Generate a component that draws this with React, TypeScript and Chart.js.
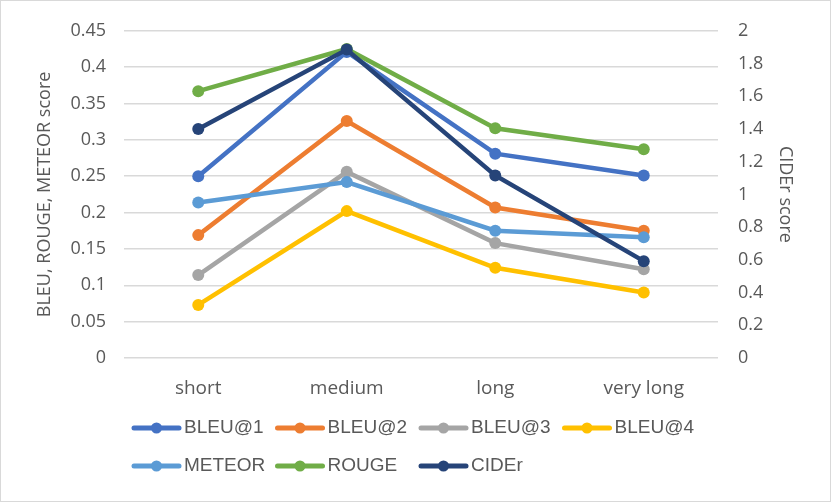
import { useRef, useEffect } from "react"
import { Chart, registerables } from "chart.js"

Chart.register(...registerables)

const categories = ["short", "medium", "long", "very long"]

const seriesNames = ["BLEU@1", "BLEU@2", "BLEU@3", "BLEU@4", "METEOR", "ROUGE", "CIDEr"]
const bleu1 = [0.25, 0.421, 0.281, 0.251]
const bleu2 = [0.169, 0.326, 0.207, 0.175]
const bleu3 = [0.114, 0.256, 0.158, 0.122]
const bleu4 = [0.073, 0.202, 0.124, 0.09]
const meteor = [0.214, 0.242, 0.175, 0.166]
const rouge = [0.367, 0.425, 0.316, 0.287]
const cider = [1.4, 1.885, 1.116, 0.592] // right axis

const colors = ["#4472C4", "#ED7D31", "#A5A5A5", "#FFC000", "#5B9BD5", "#70AD47", "#264478"]

const leftTitle = "BLEU, ROUGE, METEOR score"
const rightTitle = "CIDEr score"

const textColor = "#595959"
const gridColor = "#d9d9d9"
const fontFamily = "'Open Sans', sans-serif"

// trim trailing zeros like Excel does (0.4, 2, 1.8)
const fmt = (v: number | string) => String(Math.round(Number(v) * 100) / 100)

// Excel-style legend: fixed columns, line with a dot as the sample
const legendPlugin = {
    id: "excelLegend",
    afterDraw(chart: Chart) {
        const { ctx } = chart
        const startX = 132
        const colWidth = 143.5
        const rowY = [428, 466]
        const perRow = 4
        ctx.save()
        ctx.font = "19px 'Liberation Sans', Arial, sans-serif"
        ctx.textBaseline = "middle"
        ctx.textAlign = "left"
        chart.data.datasets.forEach((ds, i) => {
            const x = startX + (i % perRow) * colWidth
            const y = rowY[Math.floor(i / perRow)]
            const c = ds.borderColor as string
            ctx.strokeStyle = c
            ctx.lineWidth = 5
            ctx.lineCap = "round"
            ctx.beginPath()
            ctx.moveTo(x + 2, y)
            ctx.lineTo(x + 47, y)
            ctx.stroke()
            ctx.fillStyle = c
            ctx.beginPath()
            ctx.arc(x + 24.5, y, 5.5, 0, Math.PI * 2)
            ctx.fill()
            ctx.fillStyle = textColor
            ctx.fillText(ds.label || "", x + 52, y)
        })
        ctx.restore()
    },
}

const borderPlugin = {
    id: "outerBorder",
    afterDraw(chart: Chart) {
        const { ctx, width, height } = chart
        ctx.save()
        ctx.strokeStyle = gridColor
        ctx.lineWidth = 1
        ctx.strokeRect(0.5, 0.5, width - 1, height - 1)
        ctx.restore()
    },
}

export default function App() {
    const chartRef = useRef<HTMLCanvasElement | null>(null)
    const chartInstance = useRef<Chart | null>(null)

    useEffect(() => {
        document.body.style.margin = "0"
        if (!chartRef.current) return
        if (chartInstance.current) chartInstance.current.destroy()
        const ctx = chartRef.current.getContext("2d")
        if (!ctx) return

        const values = [bleu1, bleu2, bleu3, bleu4, meteor, rouge, cider]

        chartInstance.current = new Chart(ctx, {
            type: "line",
            data: {
                labels: categories,
                datasets: values.map((v, i) => ({
                    label: seriesNames[i],
                    data: v,
                    borderColor: colors[i],
                    backgroundColor: colors[i],
                    borderWidth: 4.5,
                    pointRadius: 6,
                    pointBorderWidth: 0,
                    pointBackgroundColor: colors[i],
                    tension: 0,
                    yAxisID: seriesNames[i] === "CIDEr" ? "y1" : "y",
                    order: values.length - i,
                })),
            },
            options: {
                responsive: false,
                animation: false,
                layout: { padding: { left: 0, right: 0, top: 27, bottom: 84 } },
                plugins: {
                    legend: { display: false },
                    tooltip: { enabled: false },
                },
                scales: {
                    x: {
                        offset: true,
                        grid: { display: false },
                        border: { display: false },
                        ticks: { color: textColor, font: { family: fontFamily, size: 19 }, padding: 11 },
                        afterFit: (s) => {
                            s.height = 60
                        },
                    },
                    y: {
                        position: "left",
                        min: 0,
                        max: 0.45,
                        ticks: {
                            stepSize: 0.05,
                            color: textColor,
                            font: { family: fontFamily, size: 18 },
                            padding: 18,
                            callback: (v) => fmt(v),
                        },
                        grid: { color: gridColor, lineWidth: 1.5, drawTicks: false },
                        border: { display: false },
                        title: {
                            display: true,
                            text: leftTitle,
                            color: textColor,
                            font: { family: fontFamily, size: 18 },
                            padding: { top: 34, bottom: 0 },
                        },
                        afterFit: (s) => {
                            s.width = 124
                        },
                    },
                    y1: {
                        position: "right",
                        min: 0,
                        max: 2,
                        ticks: {
                            stepSize: 0.2,
                            color: textColor,
                            font: { family: fontFamily, size: 18 },
                            padding: 20,
                            callback: (v) => fmt(v),
                        },
                        grid: { display: false, drawTicks: false },
                        border: { display: false },
                        title: {
                            display: true,
                            text: rightTitle,
                            color: textColor,
                            font: { family: fontFamily, size: 18 },
                            padding: { top: 35, bottom: 0 },
                        },
                        afterFit: (s) => {
                            s.width = 113
                        },
                    },
                },
            },
            plugins: [legendPlugin, borderPlugin],
        })

        return () => {
            if (chartInstance.current) {
                chartInstance.current.destroy()
                chartInstance.current = null
            }
        }
    }, [])

    return (
        <div style={{ width: 831, height: 502 }}>
            <canvas ref={chartRef} width={831} height={502} />
        </div>
    )
}
